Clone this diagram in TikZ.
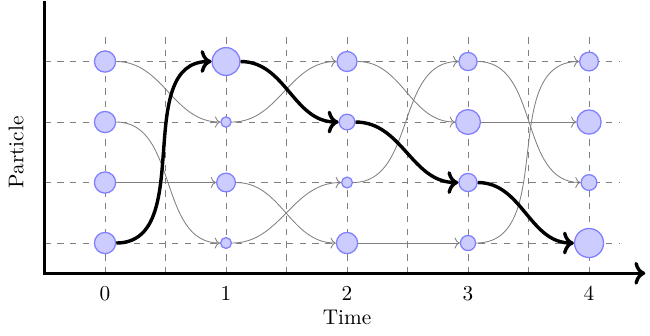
\documentclass[tikz,border=0pt]{standalone}
\usepackage{tikz}
\usetikzlibrary{positioning, calc, arrows.meta}
\definecolor{Dark}{HTML}{000000}
\tikzset{
    stato/.style={circle, draw=blue!50, fill=blue!20, semithick, inner sep=0pt, minimum size=#1},
    salto/.style={->, gray, thin},
    percorso/.style={->, ultra thick, color=Dark},
    griglia/.style={dashed, gray, thin},
    asse/.style={ultra thick, color=Dark},
}
\begin{document}
\begin{tikzpicture}
    \useasboundingbox (-1.736,-1.521) rectangle (9.008,4.017);

    % Griglia
    \foreach \x in {0,...,8}
        \draw[griglia] (\x,-0.5) -- (\x,3.5);
    \foreach \y in {0,...,3}
        \draw[griglia] (-1,\y) -- (8.5,\y);

    % Assi
    \coordinate (asse-y) at (-1,4);
    \coordinate (origine) at (-1,-0.5);
    \coordinate (asse-x) at (8.93,-0.5);
    \draw[asse, ->] (asse-y) -- (origine) -- (asse-x);
    \foreach \t in {0,...,4}
        \node (tick\t) at (2*\t,-0.84) {$\t$};
    \node (tempo) at (4,-1.23) {Time};
    \node[rotate=90] (particella) at (-1.47,1.5) {Particle};

    % Stati (colonna = tempo, riga = particella)
    \foreach \t/\a/\b/\c/\d in {0/0.35/0.35/0.35/0.35, 1/0.46/0.17/0.31/0.18,
                                2/0.33/0.26/0.18/0.35, 3/0.30/0.41/0.30/0.25,
                                4/0.31/0.40/0.26/0.48} {
        \node[stato=\a cm] (p\t-3) at (2*\t,3) {};
        \node[stato=\b cm] (p\t-2) at (2*\t,2) {};
        \node[stato=\c cm] (p\t-1) at (2*\t,1) {};
        \node[stato=\d cm] (p\t-0) at (2*\t,0) {};
    }

    % Salti grigi
    \draw[salto] (p0-3) to[out=0, in=180] (p1-2);
    \draw[salto] (p0-2) to[out=0, in=180] (p1-0);
    \draw[salto] (p0-1) to[out=0, in=180] (p1-1);
    \draw[salto] (p1-2) to[out=0, in=180] (p2-3);
    \draw[salto] (p1-1) to[out=0, in=180] (p2-0);
    \draw[salto] (p1-0) to[out=0, in=180] (p2-1);
    \draw[salto] (p2-3) to[out=0, in=180] (p3-2);
    \draw[salto] (p2-1) to[out=0, in=180] (p3-3);
    \draw[salto] (p2-0) to[out=0, in=180] (p3-0);
    \draw[salto] (p3-3) to[out=0, in=180] (p4-1);
    \draw[salto] (p3-2) to[out=0, in=180] (p4-2);
    \draw[salto] (p3-0) to[out=0, in=180] (p4-3);

    % Percorso evidenziato
    \draw[percorso] (p0-0) to[out=0, in=180] (p1-3);
    \draw[percorso] (p1-3) to[out=0, in=180] (p2-2);
    \draw[percorso] (p2-2) to[out=0, in=180] (p3-1);
    \draw[percorso] (p3-1) to[out=0, in=180] (p4-0);
\end{tikzpicture}
\end{document}
